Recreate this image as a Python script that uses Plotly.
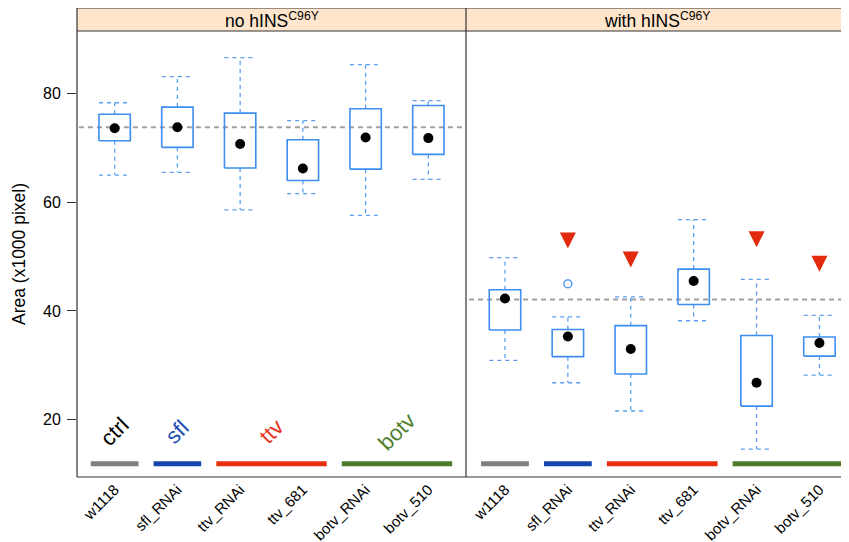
import plotly.graph_objects as go

# ---------------- data ----------------
categories = ["w1118", "sfl_RNAi", "ttv_RNAi", "ttv_681", "botv_RNAi", "botv_510"]
panel_titles = ["no hINS<sup>C96Y</sup>", "with hINS<sup>C96Y</sup>"]

# panel 1: no hINS C96Y (Area, x1000 pixel)
p1_low = [65.0, 65.5, 58.6, 61.6, 57.6, 64.2]
p1_q1 = [71.3, 70.1, 66.3, 64.0, 66.1, 68.8]
p1_med = [73.6, 73.8, 70.7, 66.2, 71.9, 71.8]
p1_q3 = [76.2, 77.5, 76.4, 71.5, 77.2, 77.8]
p1_high = [78.3, 83.1, 86.6, 75.0, 85.3, 78.7]

# panel 2: with hINS C96Y
p2_low = [30.9, 26.8, 21.6, 38.2, 14.6, 28.2]
p2_q1 = [36.5, 31.6, 28.4, 41.2, 22.5, 31.7]
p2_med = [42.3, 35.3, 33.0, 45.5, 26.8, 34.1]
p2_q3 = [43.9, 36.6, 37.3, 47.7, 35.5, 35.2]
p2_high = [49.8, 38.9, 42.6, 56.8, 45.8, 39.2]

p2_outlier_cats = ["sfl_RNAi"]
p2_outlier_vals = [45.0]

# reference (control median) level per panel
ref_levels = [73.8, 42.1]

# significance markers (panel 2)
signif_cats = ["sfl_RNAi", "ttv_RNAi", "botv_RNAi", "botv_510"]
signif_vals = [51.5, 48.0, 51.7, 47.2]

# genotype groups
groups = ["ctrl", "sfl", "ttv", "botv"]
group_members = [["w1118"], ["sfl_RNAi"], ["ttv_RNAi", "ttv_681"], ["botv_RNAi", "botv_510"]]
group_bar_colors = ["#808080", "#1446ad", "#e8300f", "#4c7c2b"]
group_text_colors = ["#000000", "#1f4fb5", "#e8341c", "#4e7f2e"]
group_bar_level = 11.9
group_label_level = 17.8

y_ticks = [20, 40, 60, 80]

# ---------------- styles ----------------
BOX_COL = "#3d8ef0"
WHISK_COL = "#5a9ff2"
BW = 0.25          # half box width (category units)
BAR_PAD = 0.38
FONT = "Liberation Sans, Arial, Helvetica, sans-serif"

pos = {c: i + 1 for i, c in enumerate(categories)}

panels = [
    (p1_low, p1_q1, p1_med, p1_q3, p1_high),
    (p2_low, p2_q1, p2_med, p2_q3, p2_high),
]
axes = [("x", "y"), ("x2", "y2")]

fig = go.Figure()

for p, (lo, q1, md, q3, hi) in enumerate(panels):
    xa, ya = axes[p]
    # reference dashed line
    fig.add_trace(go.Scatter(
        x=[0, 7], y=[ref_levels[p], ref_levels[p]], mode="lines",
        line=dict(color="#a0a0a0", width=2, dash="5px,4px"),
        xaxis=xa, yaxis=ya, hoverinfo="skip"))
    # group colour bars
    for g, mem in enumerate(group_members):
        xs = [pos[m] for m in mem]
        fig.add_trace(go.Scatter(
            x=[min(xs) - BAR_PAD, max(xs) + BAR_PAD],
            y=[group_bar_level, group_bar_level], mode="lines",
            line=dict(color=group_bar_colors[g], width=5),
            xaxis=xa, yaxis=ya, hoverinfo="skip"))
    # whiskers and caps
    wx, wy = [], []
    for i, c in enumerate(categories):
        x = pos[c]
        wx += [x, x, None, x, x, None, x - BW, x + BW, None, x - BW, x + BW, None]
        wy += [q3[i], hi[i], None, q1[i], lo[i], None, hi[i], hi[i], None, lo[i], lo[i], None]
    fig.add_trace(go.Scatter(
        x=wx, y=wy, mode="lines",
        line=dict(color=WHISK_COL, width=1.3, dash="4px,4px"),
        xaxis=xa, yaxis=ya, hoverinfo="skip"))
    # boxes
    bx, by = [], []
    for i, c in enumerate(categories):
        x = pos[c]
        bx += [x - BW, x + BW, x + BW, x - BW, x - BW, None]
        by += [q1[i], q1[i], q3[i], q3[i], q1[i], None]
    fig.add_trace(go.Scatter(
        x=bx, y=by, mode="lines",
        line=dict(color=BOX_COL, width=1.6),
        xaxis=xa, yaxis=ya, hoverinfo="skip"))
    # medians
    fig.add_trace(go.Scatter(
        x=[pos[c] for c in categories], y=md, mode="markers",
        marker=dict(color="black", size=10, line=dict(width=0)),
        xaxis=xa, yaxis=ya, hoverinfo="skip"))

# outlier
fig.add_trace(go.Scatter(
    x=[pos[c] for c in p2_outlier_cats], y=p2_outlier_vals, mode="markers",
    marker=dict(symbol="circle-open", color=BOX_COL, size=8, line=dict(width=1.3)),
    xaxis="x2", yaxis="y2", hoverinfo="skip"))

# significance triangles
fig.add_trace(go.Scatter(
    x=[pos[c] for c in signif_cats], y=signif_vals, mode="markers",
    marker=dict(symbol="arrow-down", color="#e22a0c", size=16, line=dict(width=0)),
    xaxis="x2", yaxis="y2", hoverinfo="skip"))

# ---------------- layout ----------------
# the page body adds an 8px offset, so the figure is 8px smaller each way
OFF = 8
W, H = 849 - OFF, 542 - OFF
ML, MR, MT = 77 - OFF, 0, 8 - OFF
MB = H - (477 - OFF)
pw, ph = W - ML - MR, H - MT - MB
split = (466 - 77) / pw
strip_bot = (477 - 31) / ph

axis_common = dict(showgrid=False, zeroline=False, showline=False, automargin=False)
fig.update_layout(
    width=W, height=H,
    margin=dict(l=ML, r=MR, t=MT, b=MB, autoexpand=False),
    plot_bgcolor="white", paper_bgcolor="white",
    showlegend=False,
    font=dict(family=FONT, color="black"),
    xaxis=dict(domain=[0, split], range=[0.4, 6.6], tickvals=list(range(1, 7)),
               ticktext=categories, tickangle=-45, ticks="",
               tickfont=dict(size=15), anchor="y", **axis_common),
    xaxis2=dict(domain=[split, 1], range=[0.38, 6.47], tickvals=list(range(1, 7)),
                ticktext=categories, tickangle=-45, ticks="",
                tickfont=dict(size=15), anchor="y2", **axis_common),
    yaxis=dict(domain=[0, strip_bot], range=[9.46, 91.5], tickvals=y_ticks,
               ticks="outside", ticklen=9, tickcolor="#333333", tickwidth=1,
               tickfont=dict(size=16), ticklabelstandoff=3,
               title=dict(text="Area (x1000 pixel)", font=dict(size=17.5), standoff=12),
               anchor="x", **axis_common),
    yaxis2=dict(domain=[0, strip_bot], matches="y", range=[9.46, 91.5],
                showticklabels=False, ticks="", anchor="x2", **axis_common),
)

shapes = []
# strips
for x0, x1 in [(0, split), (split, 1)]:
    shapes.append(dict(type="rect", xref="paper", yref="paper", x0=x0, x1=x1,
                       y0=strip_bot, y1=1, fillcolor="#ffe5cc", line=dict(width=0),
                       layer="below"))
FRAME = dict(color="#333333", width=1.2)
for (x0, y0, x1, y1) in [
    (0, 0, 0, 1), (split, 0, split, 1),
    (0, 0, 1, 0), (0, 1, 1, 1), (0, strip_bot, 1, strip_bot)]:
    shapes.append(dict(type="line", xref="paper", yref="paper",
                       x0=x0, y0=y0, x1=x1, y1=y1, line=FRAME))
fig.update_layout(shapes=shapes)

annotations = []
for t, (x0, x1) in zip(panel_titles, [(0, split), (split, 1)]):
    annotations.append(dict(text=t, xref="paper", yref="paper", x=(x0 + x1) / 2,
                            y=(strip_bot + 1) / 2, xanchor="center", yanchor="middle",
                            showarrow=False, font=dict(size=17.5, color="black")))
for g, mem in enumerate(group_members):
    xs = [pos[m] for m in mem]
    annotations.append(dict(text=groups[g], xref="x", yref="y",
                            x=sum(xs) / len(xs), y=group_label_level,
                            xanchor="center", yanchor="middle", textangle=-45,
                            showarrow=False,
                            font=dict(size=22, color=group_text_colors[g])))
fig.update_layout(annotations=annotations)

fig.write_html("out.html")
